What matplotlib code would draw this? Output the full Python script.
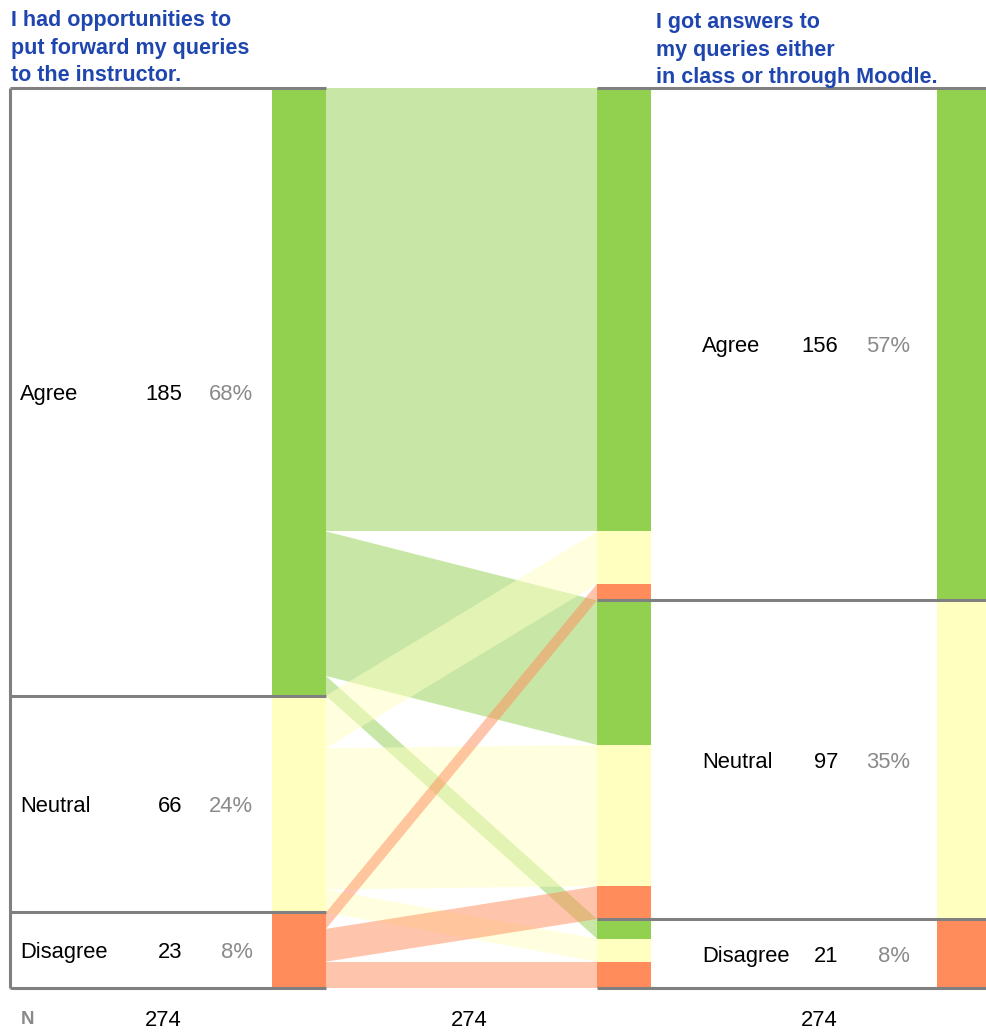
import matplotlib
matplotlib.use("Agg")
import matplotlib.pyplot as plt
from matplotlib.patches import Polygon, Rectangle

# ---------------- data ----------------
categories = ["Agree", "Neutral", "Disagree"]
q1_title = "I had opportunities to\nput forward my queries\nto the instructor."
q2_title = "I got answers to\nmy queries either\nin class or through Moodle."
# respondents: row = answer to Q1, entries = answer to Q2 (Agree, Neutral, Disagree)
flow_agree = [135, 44, 6]
flow_neutral = [16, 43, 7]
flow_disagree = [5, 10, 8]
flows = [flow_agree, flow_neutral, flow_disagree]
cat_colors = ["#92D050", "#FFFFC0", "#FF8C5A"]

q1_totals = [sum(r) for r in flows]
q2_totals = [sum(flows[i][j] for i in range(3)) for j in range(3)]
total = sum(q1_totals)

# ---------------- layout (pixels) ----------------
W, H = 987, 1033
TOP, BOT = 88, 988
LEFT_LINE_X = 10
BAR1 = (272, 326)
BAR2 = (597, 651)
BAR3 = (937, 990)
RIGHT_LINE_X = (597, 990)
LINE_C = "#808080"
LW = 2.2
TXT = 15.8
TITLE_SZ = 15.5
GRAY = "#8A8A8A"
TITLE_C = "#1F46AF"
plt.rcParams["font.family"] = ["Liberation Sans", "DejaVu Sans"]

fig = plt.figure(figsize=(W / 100, H / 100), dpi=100)
ax = fig.add_axes([0, (H - BOT) / H, 1, (BOT - TOP) / H])
ax.set_xlim(0, W)
ax.set_ylim(total, 0)
ax.axis("off")

def cum(vals):
    out, s = [], 0
    for v in vals:
        out.append(s)
        s += v
    return out

q1_start = cum(q1_totals)
q2_start = cum(q2_totals)

# positions of each flow on the left and right stacks
left_pos = {}
for i in range(3):
    y = q1_start[i]
    for j in range(3):
        left_pos[(i, j)] = y
        y += flows[i][j]
right_pos = {}
for j in range(3):
    y = q2_start[j]
    for i in range(3):
        right_pos[(i, j)] = y
        y += flows[i][j]

# flows
for i in range(3):
    for j in range(3):
        v = flows[i][j]
        if v == 0:
            continue
        ly, ry = left_pos[(i, j)], right_pos[(i, j)]
        poly = Polygon([(BAR1[1], ly), (BAR2[0], ry), (BAR2[0], ry + v), (BAR1[1], ly + v)],
                       closed=True, facecolor=cat_colors[i], alpha=0.5, edgecolor="none", lw=0)
        ax.add_patch(poly)

# bars
for i in range(3):
    for j in range(3):
        v = flows[i][j]
        ax.add_patch(Rectangle((BAR1[0], left_pos[(i, j)]), BAR1[1] - BAR1[0], v,
                               facecolor=cat_colors[i], edgecolor="none", lw=0))
        ax.add_patch(Rectangle((BAR2[0], right_pos[(i, j)]), BAR2[1] - BAR2[0], v,
                               facecolor=cat_colors[i], edgecolor="none", lw=0))
for j in range(3):
    ax.add_patch(Rectangle((BAR3[0], q2_start[j]), BAR3[1] - BAR3[0], q2_totals[j],
                           facecolor=cat_colors[j], edgecolor="none", lw=0))

# gray frame lines
bounds1 = q1_start + [total]
bounds2 = q2_start + [total]
for b in bounds1:
    ax.plot([LEFT_LINE_X, BAR1[1]], [b, b], color=LINE_C, lw=LW, solid_capstyle="butt", clip_on=False)
ax.plot([LEFT_LINE_X, LEFT_LINE_X], [0, total], color=LINE_C, lw=LW, solid_capstyle="butt", clip_on=False)
for b in bounds2:
    ax.plot(list(RIGHT_LINE_X), [b, b], color=LINE_C, lw=LW, solid_capstyle="butt", clip_on=False)

# category labels
for i, c in enumerate(categories):
    yc = q1_start[i] + q1_totals[i] / 2
    ax.text(20, yc, c, ha="left", va="center_baseline", fontsize=TXT, color="black")
    ax.text(182, yc, f"{q1_totals[i]}", ha="right", va="center_baseline", fontsize=TXT, color="black")
    ax.text(253, yc, f"{round(100 * q1_totals[i] / total)}%", ha="right", va="center_baseline", fontsize=TXT, color=GRAY)
for j, c in enumerate(categories):
    yc = q2_start[j] + q2_totals[j] / 2
    ax.text(702, yc, c, ha="left", va="center_baseline", fontsize=TXT, color="black")
    ax.text(838, yc, f"{q2_totals[j]}", ha="right", va="center_baseline", fontsize=TXT, color="black")
    ax.text(910, yc, f"{round(100 * q2_totals[j] / total)}%", ha="right", va="center_baseline", fontsize=TXT, color=GRAY)

fx = lambda x: x / W
fy = lambda y: 1 - y / H

# titles
fig.text(fx(11), fy(10), q1_title, ha="left", va="top", fontsize=TITLE_SZ, fontweight="bold",
         color=TITLE_C, linespacing=1.42)
fig.text(fx(656), fy(12), q2_title, ha="left", va="top", fontsize=TITLE_SZ, fontweight="bold",
         color=TITLE_C, linespacing=1.42)

# bottom N row
fig.text(fx(21), fy(1018), "N", ha="left", va="center_baseline", fontsize=13.5, fontweight="bold", color=GRAY)
for xr in (182, 488, 838):
    fig.text(fx(xr), fy(1018), f"{total}", ha="right", va="center_baseline", fontsize=TXT, color="black")

fig.savefig("out.png", dpi=100)
